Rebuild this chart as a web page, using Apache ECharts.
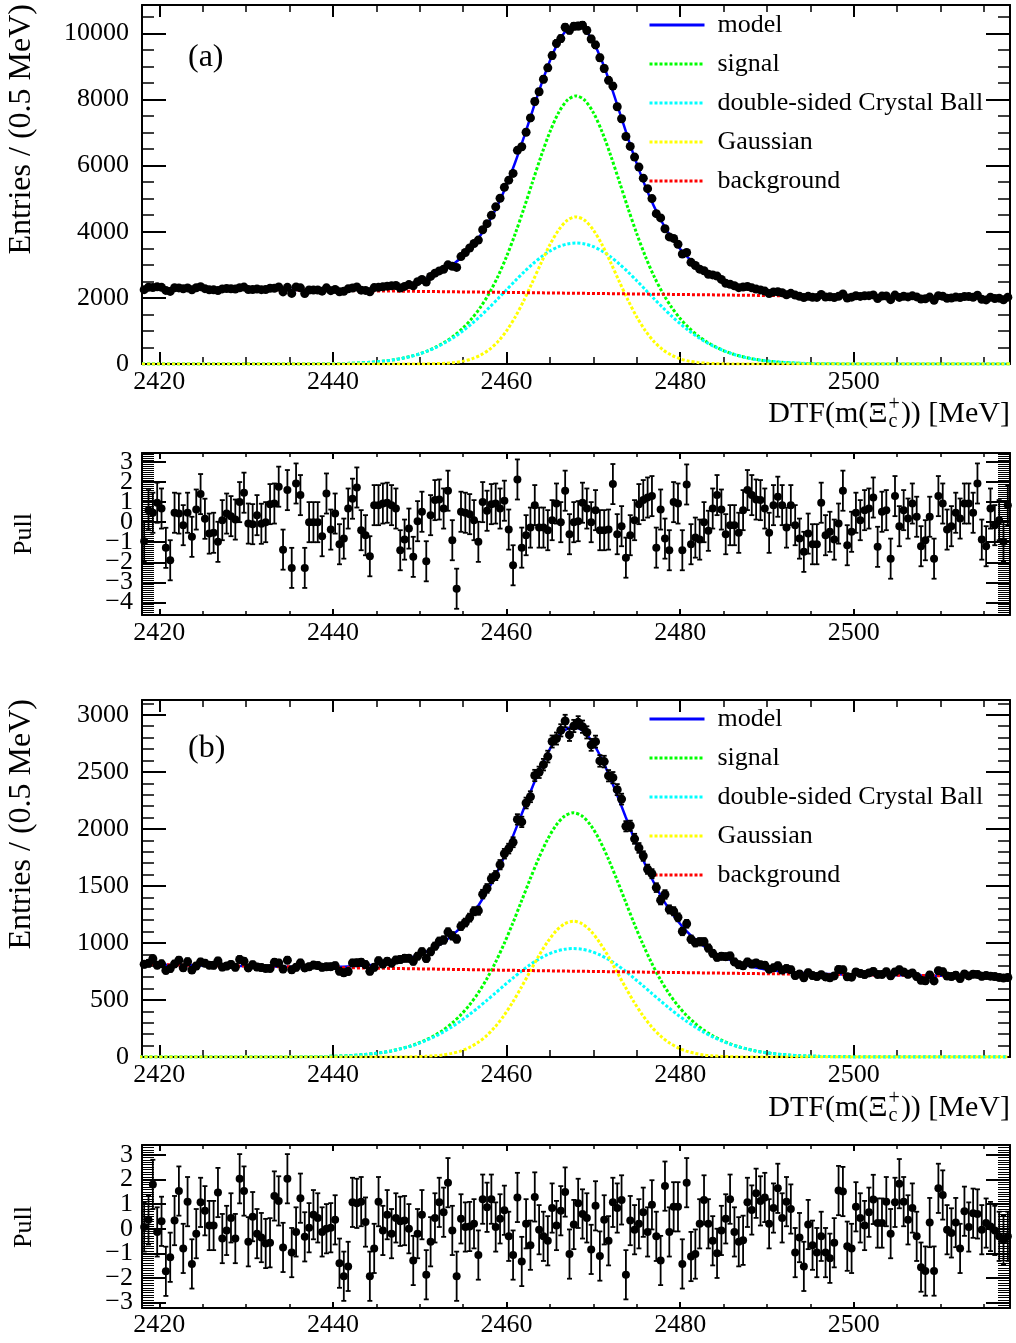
<!DOCTYPE html>
<html><head><meta charset="utf-8">
<script src="https://cdn.jsdelivr.net/npm/echarts@6/dist/echarts.min.js"></script>
<style>html,body{margin:0;padding:0;background:#fff}#chart{width:1016px;height:1343px}</style>
</head><body><div id="chart"></div>
<script>
// ---------------- DATA ----------------
const X_MIN = 2418, X_MAX = 2518;
const BIN_FIRST_CENTER = 2418.25, BIN_WIDTH = 0.5, N_BINS = 200;

const X_TICK_LABELS = [2420, 2440, 2460, 2480, 2500];
const YA_TICK_LABELS = [0, 2000, 4000, 6000, 8000, 10000];
const YB_TICK_LABELS = [0, 500, 1000, 1500, 2000, 2500, 3000];
const PULLA_TICK_LABELS = [-4, -3, -2, -1, 0, 1, 2, 3];
const PULLB_TICK_LABELS = [-3, -2, -1, 0, 1, 2, 3];

const LEGEND_NAMES = ['model', 'signal', 'double-sided Crystal Ball', 'Gaussian', 'background'];

// panel (a) data, entries per 0.5 MeV bin
const dataA = [
2249,2321,2313,2335,2320,2226,2196,2305,2302,2273,
2301,2243,2305,2340,2280,2244,2244,2222,2271,2285,
2277,2267,2307,2327,2254,2250,2270,2248,2251,2292,
2292,2329,2180,2319,2135,2333,2304,2131,2238,2237,
2237,2203,2303,2219,2257,2186,2200,2273,2299,2329,
2233,2226,2182,2312,2323,2338,2354,2364,2375,2296,
2348,2403,2366,2490,2556,2478,2649,2748,2817,2867,
2999,2956,2921,3249,3372,3508,3644,3749,4062,4245,
4498,4754,5014,5344,5561,5766,6464,6572,7011,7444,
7941,8236,8613,8959,9330,9698,9844,10187,10095,10218,
10222,10248,10091,9833,9653,9264,8939,8581,8407,7783,
7418,6882,6583,6260,5956,5622,5304,5003,4547,4420,
4091,3844,3800,3622,3326,3373,3075,2980,2870,2822,
2715,2695,2659,2559,2440,2413,2367,2309,2328,2343,
2303,2266,2242,2205,2131,2180,2187,2156,2095,2137,
2084,2046,2011,2047,2018,2014,2105,2028,2033,2013,
2047,2118,1993,2021,2063,2045,2065,2067,2090,1978,
2054,2056,1946,2085,2015,2050,2029,2062,2030,1963,
1975,2025,1930,2068,2051,1990,1997,2025,2010,2043,
2041,2019,2082,1955,1939,2021,1983,1992,1943,2023];

const pullA = [
-0.95,0.6,0.47,0.97,0.68,-1.28,-1.9,0.47,0.43,-0.15,
0.47,-0.73,0.63,1.4,0.17,-0.57,-0.53,-0.98,0.1,0.43,
0.3,0.13,1.0,1.47,-0.07,-0.1,0.35,-0.08,0.0,0.9,
0.93,1.77,-1.37,1.6,-2.28,1.93,1.35,-2.28,0.0,0.0,
0.0,-0.7,1.43,-0.37,0.43,-1.1,-0.82,0.68,1.17,1.73,
-0.4,-0.65,-1.7,0.85,0.85,0.93,0.97,0.85,0.68,-1.4,
-0.87,-0.32,-1.73,0.05,0.52,-1.95,0.35,1.1,1.13,0.68,
1.57,-0.9,-3.32,0.52,0.47,0.4,0.1,-0.98,1.0,0.57,
0.9,0.93,0.68,1.07,-0.37,-2.15,2.13,-1.27,-0.65,-0.27,
0.85,-0.27,-0.27,-0.4,0.1,0.93,0.0,1.57,-0.6,0.0,
0.05,0.97,0.68,0.0,0.6,-0.4,-0.4,-0.37,1.9,-0.6,
-0.2,-1.77,-0.65,0.1,0.9,1.1,1.23,1.3,-1.27,0.63,
-0.82,-1.4,1.0,0.93,-1.4,1.88,-1.1,-0.77,-0.87,0.0,
-0.43,0.68,1.35,0.63,-0.6,-0.15,-0.15,-0.53,0.6,1.6,
1.35,1.13,1.1,0.68,-0.53,0.85,1.27,0.85,-0.27,0.85,
-0.15,-0.82,-1.48,-0.57,-1.1,-1.1,0.97,-0.65,-0.48,-0.87,
-0.07,1.57,-1.15,-0.48,0.47,0.1,0.6,0.68,1.23,-1.23,
0.52,0.6,-1.82,1.3,-0.2,0.6,0.18,0.93,0.27,-1.2,
-0.9,0.27,-1.82,1.3,0.93,-0.37,-0.2,0.47,0.18,0.93,
0.93,0.47,1.93,-0.87,-1.2,0.68,-0.15,0.1,-0.98,0.85];

// panel (b) data
const dataB = [
813,821,861,805,817,759,775,816,849,782,
836,763,798,833,823,805,804,842,788,797,
811,787,855,840,781,809,789,784,777,777,
830,824,771,849,764,786,825,781,791,806,
802,786,791,792,801,752,738,750,825,826,
831,810,751,786,844,815,839,823,850,855,
865,865,839,884,923,864,923,972,1015,1026,
1095,1062,1035,1147,1179,1222,1278,1283,1428,1478,
1563,1591,1686,1782,1827,1883,2083,2061,2227,2282,
2468,2496,2563,2634,2766,2792,2864,2946,2824,2902,
2934,2896,2846,2737,2765,2596,2590,2466,2449,2344,
2261,2023,2027,1913,1833,1762,1646,1607,1485,1375,
1425,1294,1278,1225,1101,1168,1033,1001,1010,1010,
955,909,874,883,880,886,834,809,800,833,
815,824,808,805,770,782,800,762,776,765,
714,728,694,739,714,705,721,702,695,711,
767,765,704,700,745,733,723,737,750,724,
724,747,712,746,765,745,725,737,706,672,
668,720,667,756,748,710,706,717,688,728,
711,726,724,707,714,709,705,698,693,697];

const pullB = [
0.07,0.36,1.8,-0.13,0.3,-1.73,-1.16,0.33,1.53,-0.8,
1.1,-1.43,-0.2,1.07,0.73,0.13,0.13,1.47,-0.4,-0.07,
0.44,-0.4,2.03,1.53,-0.53,0.49,-0.2,-0.36,-0.6,-0.57,
1.33,1.13,-0.76,2.03,-0.97,-0.13,1.24,-0.33,0.04,0.57,
0.44,-0.13,0.0,0.04,0.36,-1.4,-1.93,-1.53,1.07,1.03,
1.1,0.27,-1.93,-0.8,1.1,-0.07,0.57,-0.2,0.44,0.3,
0.33,0.0,-1.29,-0.2,0.57,-1.87,-0.53,0.44,1.07,0.67,
1.87,-0.07,-1.93,0.4,0.07,0.09,0.2,-1.07,1.2,0.87,
1.2,0.07,0.4,0.75,-0.31,-1.07,1.27,-1.33,0.2,-0.67,
1.29,-0.04,-0.31,-0.49,0.84,0.13,0.73,1.49,-1.03,0.17,
1.03,0.6,0.44,-0.84,0.93,-1.11,0.36,-0.49,1.07,0.84,
1.17,-1.87,0.33,-0.04,0.2,0.67,-0.13,0.97,-0.31,-1.29,
1.73,-0.13,0.89,0.89,-1.43,1.87,-1.13,-1.03,0.2,1.17,
0.2,-0.49,-1.0,-0.07,0.4,1.2,-0.13,-0.53,-0.47,1.07,
0.76,1.44,1.13,1.27,0.2,0.84,1.64,0.44,1.1,0.8,
-0.97,-0.36,-1.53,0.17,-0.67,-0.97,-0.31,-0.97,-1.2,-0.57,
1.55,1.51,-0.71,-0.8,0.89,0.44,0.13,0.67,1.19,0.23,
0.23,1.1,-0.2,1.07,1.83,1.1,0.36,0.84,-0.31,-1.56,
-1.72,0.25,-1.72,1.64,1.37,-0.04,-0.17,0.25,-0.8,0.71,
0.07,0.63,0.6,-0.04,0.23,0.09,-0.07,-0.31,-0.47,-0.31];

// fitted curves, panel (a): sampled every 1 MeV from 2418 to 2518
const CURVE_A_START = 2418, CURVE_STEP = 1, CURVE_N = 101;
const modelA = [
2295,2292,2289,2286,2283,2280,2276,2273,2270,2267,
2264,2261,2258,2255,2252,2249,2245,2243,2241,2238,
2237,2236,2236,2238,2242,2249,2259,2276,2299,2331,
2375,2433,2506,2601,2721,2868,3050,3275,3553,3894,
4312,4816,5416,6104,6866,7668,8458,9176,9751,10123,
10250,
10117,9739,9158,8434,7637,6828,6060,5366,4760,
4250,3826,3479,3195,2964,2775,2621,2495,2394,2315,
2251,2201,2163,2134,2111,2094,2080,2070,2062,2056,
2051,2046,2043,2039,2035,2032,2029,2025,2022,2019,
2016,2013,2010,2007,2004,2001,1998,1994,1991,1988,1985];
const signalA = [
0,0,0,0,0,0,0,0,0,0,0,0,0,0,0,0,0,
1,2,2,4,6,9,14,21,31,45,65,91,126,173,234,310,408,531,681,867,1095,1376,1720,2141,2648,3251,3942,4707,5512,6306,7027,7605,7980,8110,
7980,7605,7027,6306,5512,4707,3942,3251,2648,2141,1720,1376,1095,867,681,531,408,310,234,173,126,91,65,45,31,21,14,9,6,4,2,2,1,
0,0,0,0,0,0,0,0,0,0,0,0,0,0,0,0,0];
const cbA = [
0,0,0,0,0,0,0,0,0,0,0,0,0,0,0,0,0,
1,2,2,4,6,9,14,21,31,45,65,91,126,173,233,308,403,519,657,820,1008,1220,1453,1706,1972,2246,2518,2781,3024,3239,3417,3550,3632,3660,
3632,3550,3417,3239,3024,2781,2518,2246,1972,1706,1453,1220,1008,820,657,519,403,308,233,173,126,91,65,45,31,21,14,9,6,4,2,2,1,
0,0,0,0,0,0,0,0,0,0,0,0,0,0,0,0,0];
const gaussA = [
0,0,0,0,0,0,0,0,0,0,0,0,0,0,0,0,0,0,0,0,0,0,0,0,0,0,0,0,0,0,0,
1,2,5,12,24,47,87,156,267,435,676,1005,1424,1926,2488,3067,3610,4055,4348,4450,
4348,4055,3610,3067,2488,1926,1424,1005,676,435,267,156,87,47,24,12,5,2,1,
0,0,0,0,0,0,0,0,0,0,0,0,0,0,0,0,0,0,0,0,0,0,0,0,0,0,0,0,0,0,0];
const bgXA = [2418,2428,2438,2448,2458,2468,2478,2488,2498,2508,2518];
const bgA  = [2295,2264,2233,2202,2171,2140,2109,2078,2047,2016,1985];

// fitted curves, panel (b): sampled every 1 MeV from 2417.7
const CURVE_B_START = 2417.7;
const modelB = [
812,811,809,808,807,805,804,803,801,800,
799,798,797,795,794,793,792,792,790,790,
790,790,791,791,793,797,802,809,817,829,
846,865,890,921,958,1005,1064,1134,1219,1322,
1445,1588,1751,1930,2122,2314,2498,2659,2785,2866,
2893,
2864,2781,2653,2490,2304,2109,1915,1734,1569,
1424,1299,1194,1106,1034,973,924,885,851,824,
803,784,770,759,750,743,738,734,731,728,
726,724,722,721,719,718,718,717,716,715,
714,713,712,711,710,709,709,708,707,706,705];
const signalB = [
0,0,0,0,0,0,0,0,0,0,0,0,0,0,0,0,0,
1,1,2,3,4,6,8,11,16,22,30,40,53,71,91,117,150,188,236,296,367,454,558,682,826,990,1170,1363,1557,1742,1904,2031,2113,2141,
2113,2031,1904,1742,1557,1363,1170,990,826,682,558,454,367,296,236,188,150,117,91,71,53,40,30,22,16,11,8,6,4,3,2,1,1,
0,0,0,0,0,0,0,0,0,0,0,0,0,0,0,0,0];
const cbB = [
0,0,0,0,0,0,0,0,0,0,0,0,0,0,0,0,0,
1,1,2,3,4,6,8,11,16,22,30,40,53,70,90,114,144,178,218,264,315,371,431,495,560,626,690,752,808,857,897,926,945,951,
945,926,897,857,808,752,690,626,560,495,431,371,315,264,218,178,144,114,90,70,53,40,30,22,16,11,8,6,4,3,2,1,1,
0,0,0,0,0,0,0,0,0,0,0,0,0,0,0,0,0];
const gaussB = [
0,0,0,0,0,0,0,0,0,0,0,0,0,0,0,0,0,0,0,0,0,0,0,0,0,0,0,0,0,0,
1,1,3,6,10,18,32,52,83,127,187,266,364,480,611,749,885,1007,1105,1168,1190,
1168,1105,1007,885,749,611,480,364,266,187,127,83,52,32,18,10,6,3,1,1,
0,0,0,0,0,0,0,0,0,0,0,0,0,0,0,0,0,0,0,0,0,0,0,0,0,0,0,0,0,0];
const bgXB = [2418,2428,2438,2448,2458,2468,2478,2488,2498,2508,2518];
const bgB  = [812,799,787,775,763,752,742,732,723,714,705];

// ---------------- BUILD ----------------
const binCenters = Array.from({length: N_BINS}, (_, i) => BIN_FIRST_CENTER + BIN_WIDTH * i);
const curveXA = Array.from({length: CURVE_N}, (_, k) => CURVE_A_START + CURVE_STEP * k);
const curveXB = Array.from({length: CURVE_N}, (_, k) => +(CURVE_B_START + CURVE_STEP * k).toFixed(2));
const pts = (xs, ys) => xs.map((x, i) => [x, ys[i]]);
const range = (a, b, s) => { const r = []; for (let v = a; v <= b + 1e-9; v += s) r.push(Math.round(v * 1000) / 1000); return r; };

const SERIF = "'Liberation Serif','Times New Roman',serif";
const C = {model: '#0000ff', signal: '#00ff00', cb: '#00ffff', gauss: '#ffff00', bg: '#ff0000'};
const GRIDS = [
  {left: 142, top: 5, width: 868, height: 359},
  {left: 142, top: 453, width: 868, height: 162},
  {left: 142, top: 700, width: 868, height: 357},
  {left: 142, top: 1145, width: 868, height: 163}
];
const X_MINOR = range(2420, 2515, 5);
const LABEL = {color: '#000', fontFamily: SERIF, fontSize: 26, lineHeight: 26, interval: 0,
  showMinLabel: true, showMaxLabel: true, hideOverlap: false};
const fmtPlain = v => String(v);
const fmtMinus = v => (v < 0 ? '\u2212' + Math.abs(v) : String(v));
const tickDef = (vals, len, w) => ({show: true, inside: true, length: len, customValues: vals, lineStyle: {color: '#000', width: w}});

function xAxesFor(g, majLen, minLen, margin) {
  const base = {type: 'value', gridIndex: g, min: X_MIN, max: X_MAX, splitLine: {show: false}};
  return [
    Object.assign({}, base, {position: 'bottom', axisLine: {show: true, onZero: false, lineStyle: {color: '#000', width: 2}},
      axisTick: tickDef(X_TICK_LABELS, majLen, 2), axisLabel: Object.assign({show: true, customValues: X_TICK_LABELS, margin, formatter: fmtPlain}, LABEL)}),
    Object.assign({}, base, {position: 'bottom', axisLine: {show: false, onZero: false}, axisTick: tickDef(X_MINOR, minLen, 1.5), axisLabel: {show: false}}),
    Object.assign({}, base, {position: 'top', axisLine: {show: true, onZero: false, lineStyle: {color: '#000', width: 2}}, axisTick: tickDef(X_TICK_LABELS, majLen, 2), axisLabel: {show: false}}),
    Object.assign({}, base, {position: 'top', axisLine: {show: false, onZero: false}, axisTick: tickDef(X_MINOR, minLen, 1.5), axisLabel: {show: false}})
  ];
}
// labels1 go on the major-tick axis, labels2 on the minor-tick axis (so that closely spaced labels are not dropped)
function yAxesFor(g, min, max, major, minor, majLen, minLen, minW, margin, fmt, labels1, labels2) {
  const base = {type: 'value', gridIndex: g, min, max, splitLine: {show: false}};
  const lab = vals => vals && vals.length ? Object.assign({show: true, customValues: vals, margin, formatter: fmt}, LABEL) : {show: false};
  return [
    Object.assign({}, base, {position: 'left', axisLine: {show: true, onZero: false, lineStyle: {color: '#000', width: 2}},
      axisTick: tickDef(major, majLen, 2), axisLabel: lab(labels1)}),
    Object.assign({}, base, {position: 'left', axisLine: {show: false, onZero: false}, axisTick: tickDef(minor, minLen, minW), axisLabel: lab(labels2)}),
    Object.assign({}, base, {position: 'right', axisLine: {show: true, onZero: false, lineStyle: {color: '#000', width: 2}}, axisTick: tickDef(major, majLen, 2), axisLabel: {show: false}}),
    Object.assign({}, base, {position: 'right', axisLine: {show: false, onZero: false}, axisTick: tickDef(minor, minLen, minW), axisLabel: {show: false}})
  ];
}
const even = a => a.filter(v => v % 2 === 0), odd = a => a.filter(v => v % 2 !== 0);

const xAxis = [].concat(xAxesFor(0, 12, 7, 5), xAxesFor(1, 6, 4, 5), xAxesFor(2, 12, 7, 5), xAxesFor(3, 6, 4, 4));
const yAxis = [].concat(
  yAxesFor(0, 0, 10860, YA_TICK_LABELS, range(0, 10500, 500), 24, 12, 1.5, 13, fmtPlain, YA_TICK_LABELS, null),
  yAxesFor(1, -4.63, 3.45, PULLA_TICK_LABELS, range(-4.6, 3.4, 0.1), 24, 12, 1, 9, fmtMinus, even(PULLA_TICK_LABELS), odd(PULLA_TICK_LABELS)),
  yAxesFor(2, 0, 3130, YB_TICK_LABELS, range(0, 3100, 100), 24, 12, 1.5, 13, fmtPlain, YB_TICK_LABELS, null),
  yAxesFor(3, -3.22, 3.4, PULLB_TICK_LABELS, range(-3.2, 3.4, 0.1), 24, 12, 1, 9, fmtMinus, even(PULLB_TICK_LABELS), odd(PULLB_TICK_LABELS))
);

function lineS(name, g, data, color, dotted, width, z, smooth) {
  return {type: 'line', name, xAxisIndex: 4 * g, yAxisIndex: 4 * g, data, symbol: 'none', showSymbol: false,
    smooth: smooth ? 0.3 : false, clip: true, z, silent: true,
    lineStyle: {color, width, type: dotted ? [3, 2] : 'solid'}, itemStyle: {color}};
}
function errS(g, xs, lo, hi, cap, w) {
  return {type: 'custom', xAxisIndex: 4 * g, yAxisIndex: 4 * g, z: 6, silent: true, clip: true,
    data: xs.map((x, i) => [x, lo[i], hi[i]]),
    renderItem: (params, api) => {
      const a = api.coord([api.value(0), api.value(1)]);
      const b = api.coord([api.value(0), api.value(2)]);
      const st = {stroke: '#000', lineWidth: w};
      const ch = [{type: 'line', shape: {x1: a[0], y1: a[1], x2: b[0], y2: b[1]}, style: st}];
      if (cap) {
        ch.push({type: 'line', shape: {x1: a[0] - cap, y1: a[1], x2: a[0] + cap, y2: a[1]}, style: st});
        ch.push({type: 'line', shape: {x1: b[0] - cap, y1: b[1], x2: b[0] + cap, y2: b[1]}, style: st});
      }
      return {type: 'group', children: ch};
    }};
}
function dotS(g, xs, ys, size) {
  return {type: 'scatter', xAxisIndex: 4 * g, yAxisIndex: 4 * g, z: 7, silent: true, symbol: 'circle', symbolSize: size,
    itemStyle: {color: '#000', opacity: 1}, data: pts(xs, ys)};
}
function mainSeries(g, cx, model, sig, cb, gau, bx, bg, data) {
  const err = data.map(v => Math.sqrt(v));
  return [
    lineS('model', g, pts(cx, model), C.model, false, 2.5, 3, true),
    lineS('signal', g, pts(cx, sig), C.signal, true, 3, 3, true),
    lineS('double-sided Crystal Ball', g, pts(cx, cb), C.cb, true, 3, 3, true),
    lineS('Gaussian', g, pts(cx, gau), C.gauss, true, 3, 3, true),
    lineS('background', g, pts(bx, bg), C.bg, true, 3, 4, false),
    errS(g, binCenters, data.map((v, i) => v - err[i]), data.map((v, i) => v + err[i]), 2.5, 1.8),
    dotS(g, binCenters, data, 9)
  ];
}
function pullSeries(g, pulls) {
  return [
    errS(g, binCenters, pulls.map(p => p - 1), pulls.map(p => p + 1), 2.5, 1.8),
    dotS(g, binCenters, pulls, 8)
  ];
}
const series = [].concat(
  mainSeries(0, curveXA, modelA, signalA, cbA, gaussA, bgXA, bgA, dataA),
  pullSeries(1, pullA),
  mainSeries(2, curveXB, modelB, signalB, cbB, gaussB, bgXB, bgB, dataB),
  pullSeries(3, pullB)
);

function legendAt(top) {
  return {orient: 'vertical', left: 648, top, padding: 0, itemWidth: 55, itemHeight: 26, itemGap: 13, selectedMode: false,
    itemStyle: {opacity: 0, borderWidth: 0}, lineStyle: {width: 3},
    data: LEGEND_NAMES, textStyle: {color: '#000', fontFamily: SERIF, fontSize: 26, padding: [0, 0, 0, 8]}};
}

// text helpers
const mctx = document.createElement('canvas').getContext('2d');
function tw(t, size) { mctx.font = size + 'px ' + SERIF; return mctx.measureText(t).width; }
function txt(x, y, text, size, align, valign, rot) {
  return {type: 'text', x, y, rotation: rot || 0, silent: true,
    style: {text, fill: '#000', font: size + 'px ' + SERIF, textAlign: align, textVerticalAlign: valign, align, verticalAlign: valign}};
}
function xTitle(yc) {
  const s = 30, ss = 20, t1 = 'DTF(m(\u039E', t2 = ')) [MeV]';
  const w1 = tw(t1, s), w2 = tw(t2, s), ws = Math.max(tw('+', ss), tw('c', ss));
  const x0 = 1010 - (w1 + ws + 2 + w2);
  return [txt(x0, yc, t1, s, 'left', 'middle'), txt(x0 + w1 + 1, yc - 9, '+', ss, 'left', 'middle'),
    txt(x0 + w1 + 1, yc + 8, 'c', ss, 'left', 'middle'), txt(x0 + w1 + ws + 2, yc, t2, s, 'left', 'middle')];
}
const graphic = [].concat(
  [txt(22, 4, 'Entries / (0.5 MeV)', 32, 'right', 'middle', Math.PI / 2),
   txt(24, 534, 'Pull', 26, 'center', 'middle', Math.PI / 2),
   txt(22, 699, 'Entries / (0.5 MeV)', 32, 'right', 'middle', Math.PI / 2),
   txt(24, 1227, 'Pull', 26, 'center', 'middle', Math.PI / 2),
   txt(188, 58, '(a)', 32, 'left', 'middle'),
   txt(188, 749, '(b)', 32, 'left', 'middle')],
  xTitle(414), xTitle(1108)
);

const chart = echarts.init(document.getElementById('chart'), null, {renderer: 'canvas'});
chart.setOption({
  animation: false,
  backgroundColor: '#fff',
  textStyle: {fontFamily: SERIF},
  grid: GRIDS.map(g => Object.assign({containLabel: false, outerBoundsMode: 'none'}, g)),
  xAxis, yAxis, series,
  legend: [legendAt(12), legendAt(706)],
  graphic: {elements: graphic}
});
</script></body></html>
